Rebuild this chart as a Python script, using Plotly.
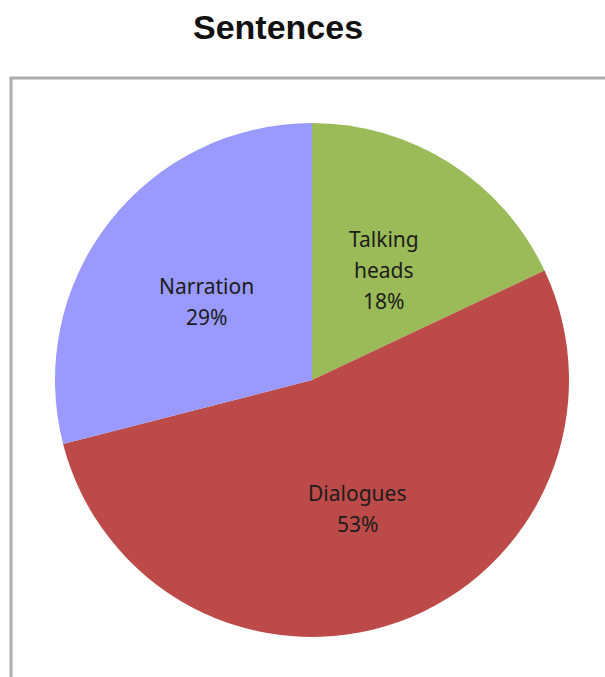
import math
import plotly.graph_objects as go

# Share of sentences by type
categories = ["Talking heads", "Dialogues", "Narration"]
label_lines = [["Talking", "heads"], ["Dialogues"], ["Narration"]]
shares = [18, 53, 29]
colors = ["#9BBB59", "#BC4A48", "#9999FF"]

W, H = 605, 677
CX, CY, R = 312, 380, 257  # pie centre and radius in pixels

fig = go.Figure(
    go.Pie(
        labels=categories,
        values=shares,
        sort=False,
        direction="clockwise",
        rotation=0,
        marker=dict(colors=colors, line=dict(width=0)),
        textinfo="none",
        hoverinfo="label+percent",
        showlegend=False,
        domain=dict(
            x=[(CX - R) / W, (CX + R) / W],
            y=[1 - (CY + R) / H, 1 - (CY - R) / H],
        ),
    )
)

# Slice labels placed at each slice's mid-angle
annotations = []
total = sum(shares)
cum = 0
for lines, v in zip(label_lines, shares):
    mid = (cum + v / 2) / total * 2 * math.pi
    cum += v
    rr = 0.52 * R
    px = CX + rr * math.sin(mid)
    py = CY - rr * math.cos(mid) + 3
    all_lines = lines + [f"{round(v / total * 100)}%"]
    n = len(all_lines)
    for i, t in enumerate(all_lines):
        ly = py + (i - (n - 1) / 2) * 31
        annotations.append(
            dict(
                x=px / W, y=1 - ly / H, xref="paper", yref="paper",
                text=t, showarrow=False, xanchor="center", yanchor="middle",
                font=dict(family="Noto Sans", size=21, color="#1c1c1c"),
            )
        )

annotations.append(
    dict(
        x=278 / W, y=1 - 27 / H, xref="paper", yref="paper",
        text="<b>Sentences</b>", showarrow=False, xanchor="center", yanchor="middle",
        font=dict(family="Liberation Sans", size=34, color="#111111"),
    )
)

fig.update_layout(
    width=W, height=H,
    margin=dict(l=0, r=0, t=0, b=0),
    paper_bgcolor="white",
    plot_bgcolor="white",
    annotations=annotations,
    shapes=[
        dict(
            type="rect", xref="paper", yref="paper",
            x0=11 / W, x1=1.05, y0=-0.05, y1=1 - 78 / H,
            line=dict(color="#ADADAD", width=3),
            fillcolor="rgba(0,0,0,0)", layer="below",
        )
    ],
)

fig.write_html("out.html")
